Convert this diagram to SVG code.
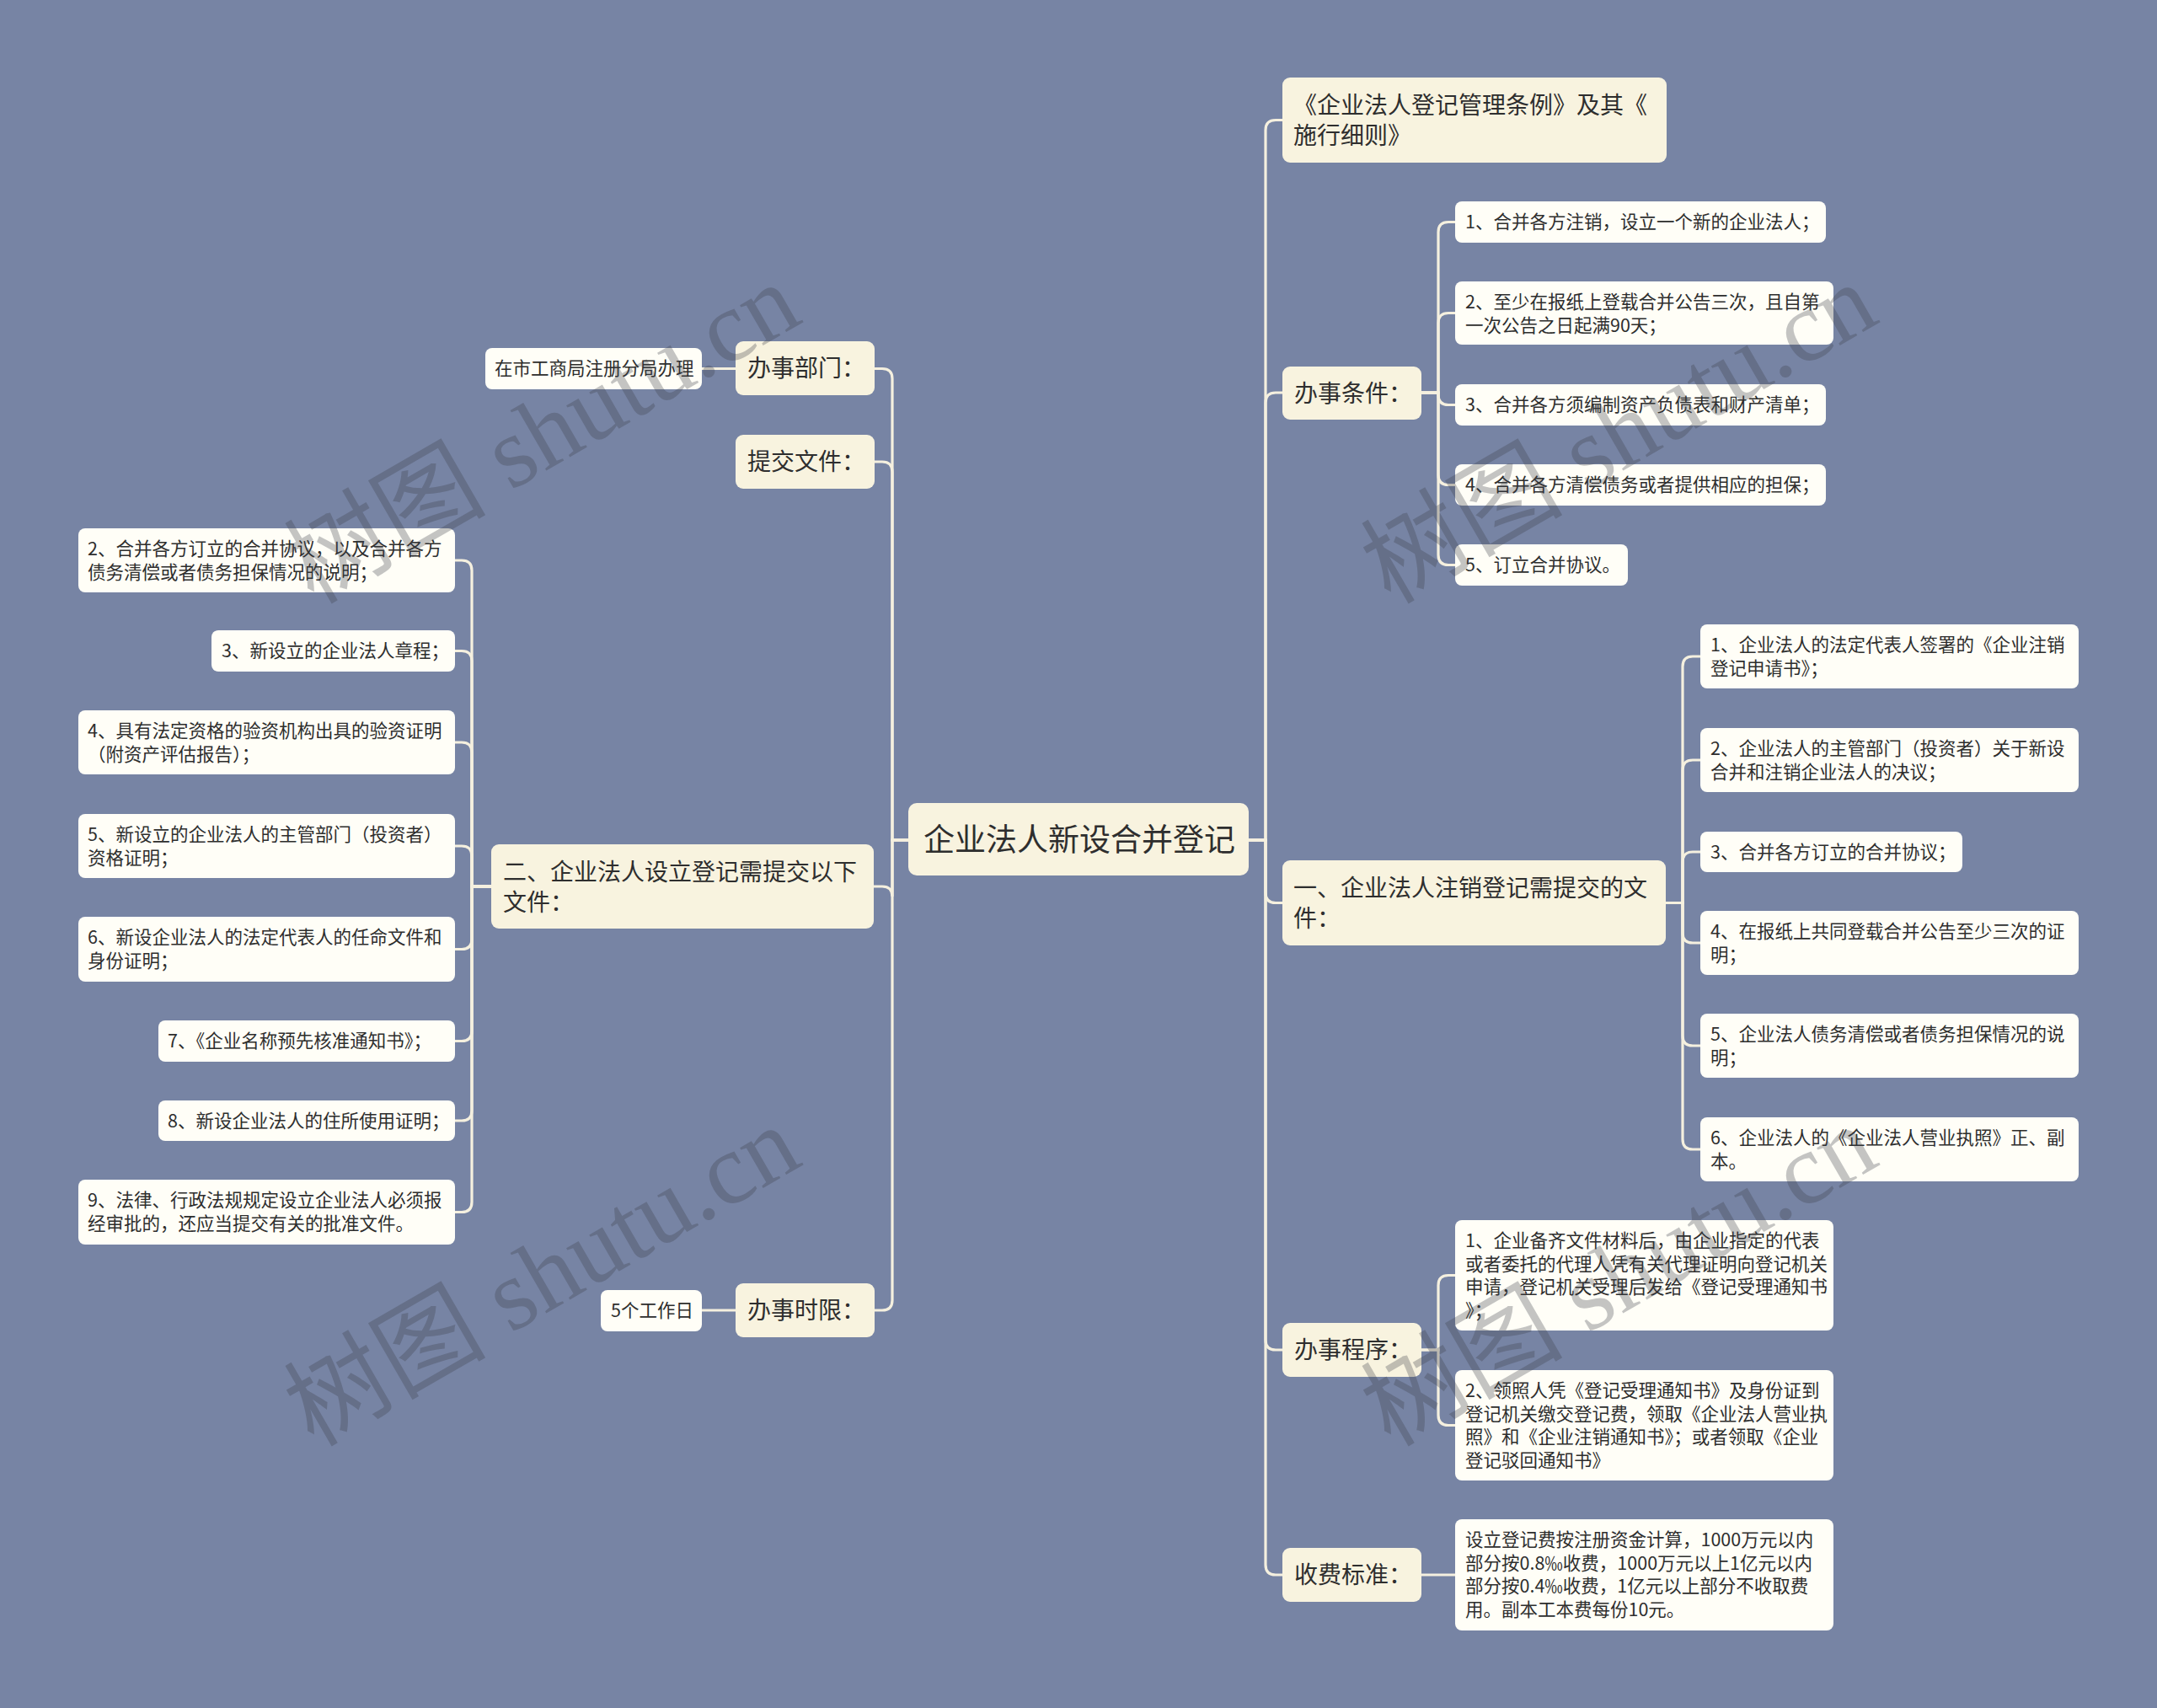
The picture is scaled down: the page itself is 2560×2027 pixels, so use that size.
<svg xmlns="http://www.w3.org/2000/svg" width="2560" height="2027" viewBox="0 0 2560 2027">
<style>
text{font-family:"Noto Sans CJK SC","Liberation Sans",sans-serif;fill:#2e2e2e}
.root{fill:#f8f3df}
.l1{fill:#f8f3df}
.leaf{fill:#fffef7}
.t0{font-size:37px}
.t1{font-size:28px}
.t2{font-size:21.5px}
.conn path{fill:none;stroke:#f5f0df;stroke-width:3.2;stroke-linecap:round}
.wm{font-family:"Liberation Serif","Noto Sans CJK SC",serif;font-size:120px;fill:#3a3f4a;fill-opacity:0.3}
</style>
<rect width="2560" height="2027" fill="#7784a4"/>
<g class="conn">
<path d="M1482 997 H1502 V154.5 Q1502 142.5 1514 142.5 H1522"/>
<path d="M1482 997 H1502 V478 Q1502 466 1514 466 H1522"/>
<path d="M1482 997 H1502 V1059.5 Q1502 1071.5 1514 1071.5 H1522"/>
<path d="M1482 997 H1502 V1590 Q1502 1602 1514 1602 H1522"/>
<path d="M1482 997 H1502 V1857 Q1502 1869 1514 1869 H1522"/>
<path d="M1078 997 H1059 V449.5 Q1059 437.5 1047 437.5 H1038"/>
<path d="M1078 997 H1059 V560 Q1059 548 1047 548 H1038"/>
<path d="M1078 997 H1059 V1064 Q1059 1052 1047 1052 H1037"/>
<path d="M1078 997 H1059 V1543 Q1059 1555 1047 1555 H1038"/>
<path d="M873 437.5 H833"/>
<path d="M873 1555 H833"/>
<path d="M1687 1869 H1727"/>
<path d="M1687 466 H1707 V275.5 Q1707 263.5 1719 263.5 H1727"/>
<path d="M1687 466 H1707 V383.5 Q1707 371.5 1719 371.5 H1727"/>
<path d="M1687 466 H1707 V468.5 Q1707 480.5 1719 480.5 H1727"/>
<path d="M1687 466 H1707 V563.5 Q1707 575.5 1719 575.5 H1727"/>
<path d="M1687 466 H1707 V658.5 Q1707 670.5 1719 670.5 H1727"/>
<path d="M1977 1071.5 H1997 V791 Q1997 779 2009 779 H2018"/>
<path d="M1977 1071.5 H1997 V914 Q1997 902 2009 902 H2018"/>
<path d="M1977 1071.5 H1997 V1023 Q1997 1011 2009 1011 H2018"/>
<path d="M1977 1071.5 H1997 V1107 Q1997 1119 2009 1119 H2018"/>
<path d="M1977 1071.5 H1997 V1229 Q1997 1241 2009 1241 H2018"/>
<path d="M1977 1071.5 H1997 V1352 Q1997 1364 2009 1364 H2018"/>
<path d="M1687 1602 H1707 V1525.5 Q1707 1513.5 1719 1513.5 H1727"/>
<path d="M1687 1602 H1707 V1679.5 Q1707 1691.5 1719 1691.5 H1727"/>
<path d="M583 1052 H560 V677 Q560 665 548 665 H540"/>
<path d="M583 1052 H560 V784.5 Q560 772.5 548 772.5 H540"/>
<path d="M583 1052 H560 V893 Q560 881 548 881 H540"/>
<path d="M583 1052 H560 V1016 Q560 1004 548 1004 H540"/>
<path d="M583 1052 H560 V1114.5 Q560 1126.5 548 1126.5 H540"/>
<path d="M583 1052 H560 V1223.5 Q560 1235.5 548 1235.5 H540"/>
<path d="M583 1052 H560 V1318 Q560 1330 548 1330 H540"/>
<path d="M583 1052 H560 V1426.5 Q560 1438.5 548 1438.5 H540"/>
</g>
<g id="root"><rect class="root" x="1078" y="953" width="404" height="86" rx="10"/><text class="t0" x="1096" y="1010">企业法人新设合并登记</text></g>
<g id="n-regs"><rect class="l1" x="1522" y="92" width="456" height="101" rx="9"/><text class="t1" x="1535" y="135">《企业法人登记管理条例》及其《</text><text class="t1" x="1535" y="171">施行细则》</text></g>
<g id="n-cond"><rect class="l1" x="1522" y="435" width="165" height="63" rx="9"/><text class="t1" x="1536" y="477">办事条件：</text></g>
<g id="n-c1"><rect class="leaf" x="1727" y="239" width="440" height="49" rx="8"/><text class="t2" x="1739" y="271">1、合并各方注销，设立一个新的企业法人；</text></g>
<g id="n-c2"><rect class="leaf" x="1727" y="334" width="449" height="75" rx="8"/><text class="t2" x="1739" y="366">2、至少在报纸上登载合并公告三次，且自第</text><text class="t2" x="1739" y="393.5">一次公告之日起满90天；</text></g>
<g id="n-c3"><rect class="leaf" x="1727" y="456" width="440" height="49" rx="8"/><text class="t2" x="1739" y="488">3、合并各方须编制资产负债表和财产清单；</text></g>
<g id="n-c4"><rect class="leaf" x="1727" y="551" width="440" height="49" rx="8"/><text class="t2" x="1739" y="583">4、合并各方清偿债务或者提供相应的担保；</text></g>
<g id="n-c5"><rect class="leaf" x="1727" y="646" width="205" height="49" rx="8"/><text class="t2" x="1739" y="678">5、订立合并协议。</text></g>
<g id="n-cancel"><rect class="l1" x="1522" y="1021" width="455" height="101" rx="9"/><text class="t1" x="1535" y="1064">一、企业法人注销登记需提交的文</text><text class="t1" x="1535" y="1100">件：</text></g>
<g id="n-e1"><rect class="leaf" x="2018" y="741" width="449" height="76" rx="8"/><text class="t2" x="2030" y="773">1、企业法人的法定代表人签署的《企业注销</text><text class="t2" x="2030" y="800.5">登记申请书》；</text></g>
<g id="n-e2"><rect class="leaf" x="2018" y="864" width="449" height="76" rx="8"/><text class="t2" x="2030" y="896">2、企业法人的主管部门（投资者）关于新设</text><text class="t2" x="2030" y="923.5">合并和注销企业法人的决议；</text></g>
<g id="n-e3"><rect class="leaf" x="2018" y="987" width="311" height="48" rx="8"/><text class="t2" x="2030" y="1019">3、合并各方订立的合并协议；</text></g>
<g id="n-e4"><rect class="leaf" x="2018" y="1081" width="449" height="76" rx="8"/><text class="t2" x="2030" y="1113">4、在报纸上共同登载合并公告至少三次的证</text><text class="t2" x="2030" y="1140.5">明；</text></g>
<g id="n-e5"><rect class="leaf" x="2018" y="1203" width="449" height="76" rx="8"/><text class="t2" x="2030" y="1235">5、企业法人债务清偿或者债务担保情况的说</text><text class="t2" x="2030" y="1262.5">明；</text></g>
<g id="n-e6"><rect class="leaf" x="2018" y="1326" width="449" height="76" rx="8"/><text class="t2" x="2030" y="1358">6、企业法人的《企业法人营业执照》正、副</text><text class="t2" x="2030" y="1385.5">本。</text></g>
<g id="n-proc"><rect class="l1" x="1522" y="1570" width="165" height="64" rx="9"/><text class="t1" x="1536" y="1612">办事程序：</text></g>
<g id="n-p1"><rect class="leaf" x="1727" y="1448" width="449" height="131" rx="8"/><text class="t2" x="1739" y="1480">1、企业备齐文件材料后，由企业指定的代表</text><text class="t2" x="1739" y="1507.5">或者委托的代理人凭有关代理证明向登记机关</text><text class="t2" x="1739" y="1535">申请，登记机关受理后发给《登记受理通知书</text><text class="t2" x="1739" y="1562.5">》；</text></g>
<g id="n-p2"><rect class="leaf" x="1727" y="1626" width="449" height="131" rx="8"/><text class="t2" x="1739" y="1658">2、领照人凭《登记受理通知书》及身份证到</text><text class="t2" x="1739" y="1685.5">登记机关缴交登记费，领取《企业法人营业执</text><text class="t2" x="1739" y="1713">照》和《企业注销通知书》；或者领取《企业</text><text class="t2" x="1739" y="1740.5">登记驳回通知书》</text></g>
<g id="n-fee"><rect class="l1" x="1522" y="1837" width="165" height="64" rx="9"/><text class="t1" x="1536" y="1879">收费标准：</text></g>
<g id="n-fee1"><rect class="leaf" x="1727" y="1803" width="449" height="132" rx="8"/><text class="t2" x="1739" y="1835">设立登记费按注册资金计算，1000万元以内</text><text class="t2" x="1739" y="1862.5">部分按0.8‰收费，1000万元以上1亿元以内</text><text class="t2" x="1739" y="1890">部分按0.4‰收费，1亿元以上部分不收取费</text><text class="t2" x="1739" y="1917.5">用。副本工本费每份10元。</text></g>
<g id="n-dept"><rect class="l1" x="873" y="405" width="165" height="64" rx="9"/><text class="t1" x="887" y="447">办事部门：</text></g>
<g id="n-dept1"><rect class="leaf" x="576" y="413" width="257" height="49" rx="8"/><text class="t2" x="587" y="445">在市工商局注册分局办理</text></g>
<g id="n-submit"><rect class="l1" x="873" y="516" width="165" height="64" rx="9"/><text class="t1" x="887" y="558">提交文件：</text></g>
<g id="n-setup"><rect class="l1" x="583" y="1002" width="454" height="100" rx="9"/><text class="t1" x="597" y="1045">二、企业法人设立登记需提交以下</text><text class="t1" x="597" y="1081">文件：</text></g>
<g id="n-s2"><rect class="leaf" x="93" y="627" width="447" height="76" rx="8"/><text class="t2" x="104" y="659">2、合并各方订立的合并协议，以及合并各方</text><text class="t2" x="104" y="686.5">债务清偿或者债务担保情况的说明；</text></g>
<g id="n-s3"><rect class="leaf" x="251" y="748" width="289" height="49" rx="8"/><text class="t2" x="263" y="780">3、新设立的企业法人章程；</text></g>
<g id="n-s4"><rect class="leaf" x="93" y="843" width="447" height="76" rx="8"/><text class="t2" x="104" y="875">4、具有法定资格的验资机构出具的验资证明</text><text class="t2" x="104" y="902.5">（附资产评估报告）；</text></g>
<g id="n-s5"><rect class="leaf" x="93" y="966" width="447" height="76" rx="8"/><text class="t2" x="104" y="998">5、新设立的企业法人的主管部门（投资者）</text><text class="t2" x="104" y="1025.5">资格证明；</text></g>
<g id="n-s6"><rect class="leaf" x="93" y="1088" width="447" height="77" rx="8"/><text class="t2" x="104" y="1120">6、新设企业法人的法定代表人的任命文件和</text><text class="t2" x="104" y="1147.5">身份证明；</text></g>
<g id="n-s7"><rect class="leaf" x="188" y="1211" width="352" height="49" rx="8"/><text class="t2" x="199" y="1243">7、《企业名称预先核准通知书》；</text></g>
<g id="n-s8"><rect class="leaf" x="188" y="1306" width="352" height="48" rx="8"/><text class="t2" x="199" y="1338">8、新设企业法人的住所使用证明；</text></g>
<g id="n-s9"><rect class="leaf" x="93" y="1400" width="447" height="77" rx="8"/><text class="t2" x="104" y="1432">9、法律、行政法规规定设立企业法人必须报</text><text class="t2" x="104" y="1459.5">经审批的，还应当提交有关的批准文件。</text></g>
<g id="n-time"><rect class="l1" x="873" y="1523" width="165" height="64" rx="9"/><text class="t1" x="887" y="1565">办事时限：</text></g>
<g id="n-time1"><rect class="leaf" x="713" y="1531" width="120" height="49" rx="8"/><text class="t2" x="725" y="1563">5个工作日</text></g>
<g id="watermark">
<text class="wm" transform="translate(372,718) rotate(-30)">树图 shutu.cn</text>
<text class="wm" transform="translate(1650,718) rotate(-30)">树图 shutu.cn</text>
<text class="wm" transform="translate(372,1718) rotate(-30)">树图 shutu.cn</text>
<text class="wm" transform="translate(1650,1718) rotate(-30)">树图 shutu.cn</text>
</g>
</svg>
